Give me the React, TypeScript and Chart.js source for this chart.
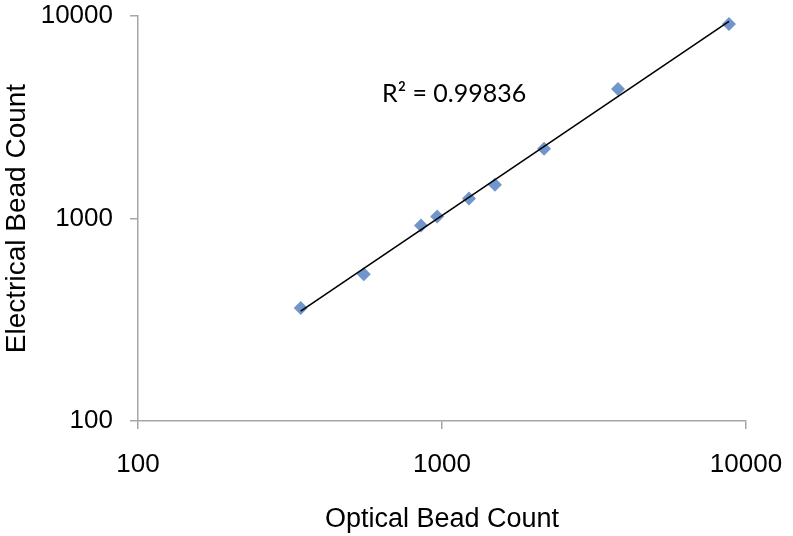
import React, { useEffect, useRef } from 'react';
import { Chart, registerables } from 'chart.js';

Chart.register(...registerables);

const opticalCounts = [343, 553, 853, 964, 1227, 1493, 2166, 3793, 8790];
const electricalCounts = [361, 530, 924, 1023, 1256, 1469, 2213, 4365, 9140];
const axisTicks = [100, 1000, 10000];
const xTitle = 'Optical Bead Count';
const yTitle = 'Electrical Bead Count';
const r2Label = 'R² = 0.99836';
const r2LabelAt = { x: 635, y: 4121 };

function powerFit(xs: number[], ys: number[]) {
  const lx = xs.map(Math.log10);
  const ly = ys.map(Math.log10);
  const n = lx.length;
  const mx = lx.reduce((a, b) => a + b, 0) / n;
  const my = ly.reduce((a, b) => a + b, 0) / n;
  let sxy = 0, sxx = 0;
  for (let i = 0; i < n; i++) {
    sxy += (lx[i] - mx) * (ly[i] - my);
    sxx += (lx[i] - mx) ** 2;
  }
  const b = sxy / sxx;
  const a = my - b * mx;
  return (x: number) => Math.pow(10, a + b * Math.log10(x));
}

export default function App() {
  const ref = useRef<HTMLCanvasElement | null>(null);

  useEffect(() => {
    if (!ref.current) return;
    const fit = powerFit(opticalCounts, electricalCounts);
    const xMin = Math.min(...opticalCounts);
    const xMax = Math.max(...opticalCounts);
    const trend = [
      { x: xMin, y: fit(xMin) },
      { x: xMax, y: fit(xMax) },
    ];
    const points = opticalCounts.map((x, i) => ({ x, y: electricalCounts[i] }));

    const labelPlugin = {
      id: 'r2label',
      afterDatasetsDraw(chart: any) {
        const { ctx, scales } = chart;
        const px = scales.x.getPixelForValue(r2LabelAt.x);
        const py = scales.y.getPixelForValue(r2LabelAt.y);
        ctx.save();
        ctx.font = '25px Lato';
        ctx.fillStyle = '#000';
        ctx.textAlign = 'left';
        ctx.textBaseline = 'middle';
        ctx.fillText(r2Label, px, py);
        ctx.restore();
      },
    };

    const tickFont = { family: 'Liberation Sans', size: 26 };
    const titleFont = { family: 'Liberation Sans', size: 27 };
    const axisColor = '#a6a6a6';

    const chart = new Chart(ref.current, {
      type: 'scatter',
      data: {
        datasets: [
          {
            label: 'Trend',
            data: trend,
            showLine: true,
            borderColor: '#000',
            borderWidth: 1.6,
            pointRadius: 0,
            fill: false,
          },
          {
            label: 'Counts',
            data: points,
            pointStyle: 'rectRot',
            pointRadius: 7,
            pointBackgroundColor: '#7096cb',
            pointBorderWidth: 0,
            borderColor: '#7096cb',
          },
        ],
      },
      options: {
        animation: false,
        responsive: true,
        maintainAspectRatio: false,
        layout: { padding: { top: 16, right: 47, left: 0, bottom: 0 } },
        plugins: { legend: { display: false }, tooltip: { enabled: false } },
        scales: {
          x: {
            type: 'logarithmic',
            min: 100,
            max: 10000,
            afterBuildTicks: (s: any) => {
              s.ticks = axisTicks.map((v) => ({ value: v }));
            },
            afterFit: (s: any) => {
              s.height = 115;
              s.paddingLeft = 0;
              s.paddingRight = 0;
            },
            ticks: {
              callback: (v: any) => String(v),
              font: tickFont,
              color: '#000',
              padding: 20,
              maxRotation: 0,
              autoSkip: false,
            },
            grid: { drawOnChartArea: false, tickLength: 8, color: axisColor, lineWidth: 1.5 },
            border: { color: axisColor, width: 1.5 },
            title: {
              display: true,
              text: xTitle,
              font: titleFont,
              color: '#000',
              padding: { top: 0, bottom: 0 },
            },
          },
          y: {
            type: 'logarithmic',
            min: 100,
            max: 10000,
            afterBuildTicks: (s: any) => {
              s.ticks = axisTicks.map((v) => ({ value: v }));
            },
            afterFit: (s: any) => {
              s.width = 138;
              s.paddingTop = 0;
              s.paddingBottom = 0;
            },
            ticks: {
              callback: (v: any) => String(v),
              font: tickFont,
              color: '#000',
              padding: 17,
              autoSkip: false,
            },
            grid: { drawOnChartArea: false, tickLength: 8, color: axisColor, lineWidth: 1.5 },
            border: { color: axisColor, width: 1.5 },
            title: {
              display: true,
              text: yTitle,
              font: { family: 'Liberation Sans', size: 28 },
              color: '#000',
              padding: { top: 0, bottom: 0 },
            },
          },
        },
      },
      plugins: [labelPlugin],
    } as any);

    return () => chart.destroy();
  }, []);

  return (
    <div style={{ position: 'absolute', left: 0, top: 0, width: 793, height: 536, background: '#fff' }}>
      <canvas ref={ref} />
    </div>
  );
}
